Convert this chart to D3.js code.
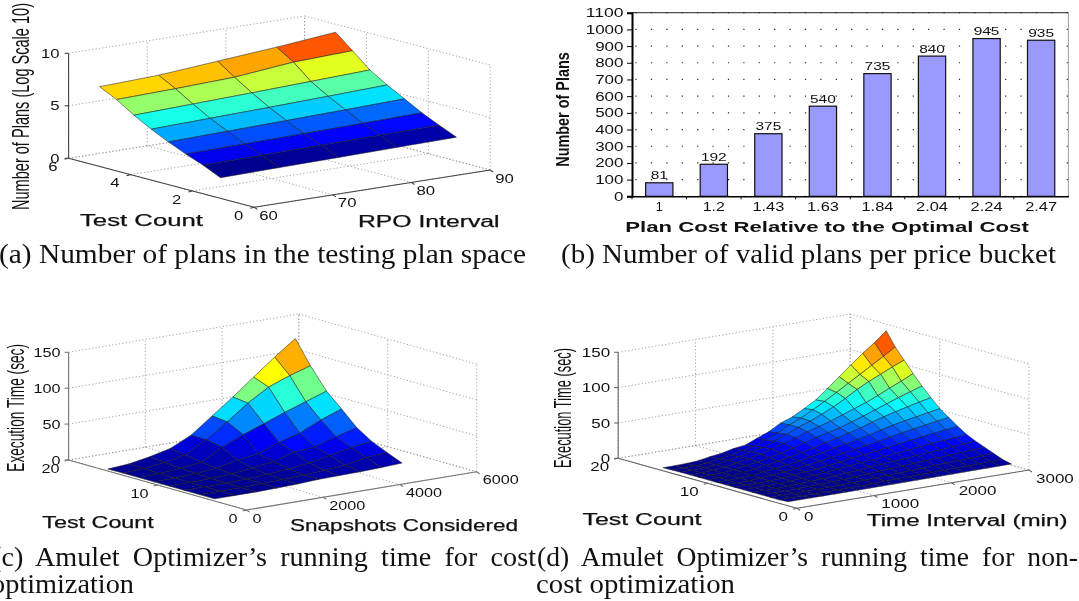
<!DOCTYPE html>
<html lang="en">
<head>
<meta charset="UTF-8">
<title>Amulet Optimizer plots</title>
<script src="https://d3js.org/d3.v7.min.js"></script>
<style>
    html, body { margin: 0; padding: 0; background: #fff; }
    svg { display: block; filter: blur(0.35px); }
    text { font-family: "Liberation Sans", sans-serif; fill: #111; }
    .caption { font-family: "Liberation Serif", serif; font-size: 27px; }
</style>
</head>
<body>
<svg id="chart" width="1079" height="601"></svg>
<script>
// (a) surface
const aTestCount = [1.09, 1.65, 2.21, 2.77, 3.33, 3.89, 4.45, 5];
const aRpoInterval = [60, 67.5, 75, 82.5, 90];
const aPlans = [
    [1.97, 2.05, 2.12, 2.2, 2.28],
    [2.73, 2.78, 2.85, 2.92, 2.98],
    [3.35, 3.43, 3.52, 3.62, 3.73],
    [4.07, 4.2, 4.33, 4.47, 4.62],
    [4.85, 5.0, 5.15, 5.32, 5.51],
    [5.75, 5.92, 6.1, 6.3, 6.5],
    [6.8, 6.95, 7.15, 7.7, 7.9],
    [7.6, 7.8, 8.25, 8.7, 9.23]
];

// (b) bars
const barCosts = ["1", "1.2", "1.43", "1.63", "1.84", "2.04", "2.24", "2.47"];
const barPlans = [81, 192, 375, 540, 735, 840, 945, 935];
const barTicks = [0, 100, 200, 300, 400, 500, 600, 700, 800, 900, 1000, 1100];

// (c) surface
const cTestCount = [3.6, 5.3, 7, 8.7, 10.4, 12.1, 13.9, 15.6];
const cSnapshots = [0, 540, 1090, 1630, 2170, 2720, 3260, 3800, 4350, 4890];
const cTime = [
    [3, 3, 3, 3.5, 4.5, 6, 6.5, 7, 8, 9.4],
    [3, 3, 3.2, 3.8, 4.8, 6.2, 7.8, 10, 16, 18.3],
    [3, 3.2, 3.6, 4.4, 6, 8.5, 12, 17.6, 24, 27.6],
    [3, 3.3, 4, 5.5, 9, 13, 21, 24, 33, 41],
    [3, 3.5, 5, 7.5, 14, 18, 29, 37, 50.5, 61],
    [3, 4, 6.5, 10, 26, 38.5, 49, 60, 70, 80],
    [3, 4.5, 8, 14, 30, 50, 71.5, 89, 100, 109],
    [2.8, 4.9, 10, 17, 30.5, 52.5, 74, 97, 120, 141]
];

// (d) surface
const dTestCount = [1, 2, 3, 4, 5, 6, 7, 8, 9, 10, 11, 12, 13, 14, 15];
const dInterval = [0, 152, 304, 456, 608, 760, 912, 1064, 1216, 1368, 1520, 1672, 1824, 1976, 2128, 2280, 2432, 2584, 2736, 2888];
const dTime = [
    [5.8, 5.8, 5.8, 5.8, 5.8, 5.8, 5.9, 5.9, 6, 6, 6.1, 6.2, 6.3, 6.4, 6.5, 6.6, 6.7, 6.8, 6.9, 7],
    [5, 5, 5, 5, 5.1, 5.2, 5.4, 5.6, 6, 6.4, 6.9, 7.3, 7.7, 8, 8.3, 8.6, 8.9, 9.2, 9.6, 10],
    [5, 5, 5, 5.1, 5.3, 5.5, 6, 6.3, 7, 7.8, 8.7, 9.3, 10, 10.8, 11.5, 12.3, 13, 13.6, 14.3, 15],
    [5, 5, 5, 5.2, 5.6, 6, 6.8, 7.4, 8.5, 9.6, 10.8, 11.7, 12.7, 13.7, 15, 16, 17, 18, 19, 20],
    [5, 5, 5, 5.3, 6, 6.8, 7.8, 8.8, 10.2, 11.6, 13.2, 14.4, 15.7, 17, 18.6, 20, 21.4, 22.6, 23.8, 25],
    [5, 5, 5.1, 5.5, 6.5, 7.6, 9, 10.2, 12, 13.8, 15.8, 17.4, 19, 20.8, 22.8, 24.6, 26.2, 27.8, 29.4, 31],
    [5, 5, 5.2, 5.8, 7.2, 8.5, 10.2, 11.8, 14, 16.2, 18.8, 20.8, 23, 25.4, 28, 30.6, 32.8, 35, 37, 39],
    [5, 5, 5.3, 6.2, 8, 9.5, 11.6, 13.6, 16.4, 19, 22.2, 24.8, 27.6, 30.6, 34, 37.2, 40, 42.8, 45.4, 48],
    [5, 5, 5.4, 6.5, 8.8, 10.6, 13.2, 15.6, 19, 22.2, 26, 29, 32.6, 36.2, 40.5, 44.5, 48, 51, 54, 57],
    [5, 5.1, 5.6, 7, 9.6, 11.8, 14.8, 17.6, 21.6, 25.4, 30, 33.6, 38, 42.5, 48, 53, 57.5, 61.5, 65.5, 69],
    [5, 5.2, 5.8, 7.4, 10.4, 13, 16.4, 19.8, 24.4, 29, 34, 38, 42, 47.5, 53, 59, 65, 71, 76.5, 82],
    [5, 5.2, 6, 7.8, 11, 14, 18, 22, 27.4, 32.6, 38.5, 43, 48, 54, 60, 66, 73, 81, 88, 96],
    [5, 5.1, 5.8, 7.5, 10.5, 13.5, 17.5, 21, 27, 34, 41, 47, 54, 62, 71, 81, 89.5, 97, 104.5, 111.5],
    [4.8, 4.9, 5.3, 6.5, 9.5, 11.5, 16, 19, 25, 32, 41, 48, 57, 66, 76, 86, 96, 106, 116, 126.7],
    [4.4, 4.5, 5, 6, 9, 11, 15, 17, 24, 30.5, 40, 46, 55, 64.5, 78, 92, 106, 119.5, 132, 146]
];

const svg = d3.select("#chart");

// MATLAB jet
const jet = d3.scaleLinear()
    .domain([0, 0.125, 0.375, 0.625, 0.875, 1])
    .range(["#00008f", "#0000ff", "#00ffff", "#ffff00", "#ff0000", "#800000"])
    .clamp(true);

// text squeezed or stretched to the width it has in the picture
function label(parent, str, x, y, width, opts = {}) {
    const t = parent.append("text")
        .attr("x", x)
        .attr("y", y)
        .attr("dy", ".35em")
        .attr("text-anchor", opts.anchor || "start")
        .attr("font-size", opts.size || 13)
        .attr("font-weight", opts.weight || "normal")
        .attr("textLength", width)
        .attr("lengthAdjust", "spacingAndGlyphs")
        .text(str);
    if (opts.stroke) t.attr("stroke", "#111").attr("stroke-width", opts.stroke);
    if (opts.rotate) t.attr("transform", `rotate(-90,${x},${y})`);
    return t;
}

function drawSurface(cfg) {
    const g = svg.append("g");
    const tMax = cfg.tTicks[cfg.tTicks.length - 1];
    const tMin = cfg.tTicks[0];
    const sMin = cfg.sTicks[0];
    const sMax = cfg.sTicks[cfg.sTicks.length - 1];
    const zMax = cfg.zTicks[cfg.zTicks.length - 1];

    // oblique axes: each data axis moves the point along its own screen vector
    const tx = d3.scaleLinear().domain([tMin, tMax]).range([0, cfg.left[0] - cfg.front[0]]);
    const ty = d3.scaleLinear().domain([tMin, tMax]).range([0, cfg.left[1] - cfg.front[1]]);
    const sx = d3.scaleLinear().domain([sMin, sMax]).range([0, cfg.right[0] - cfg.front[0]]);
    const sy = d3.scaleLinear().domain([sMin, sMax]).range([0, cfg.right[1] - cfg.front[1]]);
    const zy = d3.scaleLinear().domain([0, zMax]).range([0, -cfg.zHeight]);

    const project = (t, s, z) => [
        cfg.front[0] + tx(t) + sx(s),
        cfg.front[1] + ty(t) + sy(s) + zy(z)
    ];

    const grid = g.append("g")
        .attr("fill", "none")
        .attr("stroke", "#9a9a9a")
        .attr("stroke-width", 0.9)
        .attr("stroke-dasharray", "1.2 2.2");
    const seg = (a, b) => grid.append("line")
        .attr("x1", a[0]).attr("y1", a[1])
        .attr("x2", b[0]).attr("y2", b[1]);

    cfg.tTicks.forEach(t => {
        seg(project(t, sMin, 0), project(t, sMax, 0));
        seg(project(t, sMax, 0), project(t, sMax, zMax));
    });
    cfg.sTicks.forEach(s => {
        seg(project(tMin, s, 0), project(tMax, s, 0));
        seg(project(tMax, s, 0), project(tMax, s, zMax));
    });
    cfg.zTicks.forEach(z => {
        seg(project(tMax, sMin, z), project(tMax, sMax, z));
        seg(project(tMax, sMax, z), project(tMin, sMax, z));
    });

    // solid axes and ticks
    const axes = g.append("g").attr("stroke", cfg.axisColor).attr("stroke-width", 1.1).attr("fill", "none");
    const solid = (a, b) => axes.append("line")
        .attr("x1", a[0]).attr("y1", a[1])
        .attr("x2", b[0]).attr("y2", b[1]);
    solid(project(tMax, sMin, 0), project(tMax, sMin, zMax));
    solid(project(tMax, sMin, 0), project(tMin, sMin, 0));
    solid(project(tMin, sMin, 0), project(tMin, sMax, 0));

    cfg.zTicks.forEach(z => {
        const p = project(tMax, sMin, z);
        solid(p, [p[0] - 4, p[1]]);
        label(g, String(z), p[0] - cfg.zGap, p[1], String(z).length * cfg.charW, { anchor: "end" });
    });
    cfg.tTicks.forEach(t => {
        const p = project(t, sMin, 0);
        solid(p, [p[0] - 4, p[1] + 1]);
        label(g, String(t), p[0] - cfg.tGap, p[1] + 8, String(t).length * cfg.charW, { anchor: "end" });
    });
    cfg.sTicks.forEach(s => {
        const p = project(tMin, s, 0);
        solid(p, [p[0] + 3, p[1] + 2]);
        label(g, String(s), p[0] + cfg.sGap, p[1] + 8, String(s).length * cfg.charW);
    });

    // cells, far corner first, coloured by their first vertex like flat shading
    const zAll = cfg.values.flat();
    const colorPos = d3.scaleLinear().domain(d3.extent(zAll)).range([0, 1]);
    const cells = [];
    for (let i = cfg.tests.length - 2; i >= 0; i--) {
        for (let j = cfg.steps.length - 2; j >= 0; j--) {
            cells.push({ i, j });
        }
    }
    const outline = d3.line().curve(d3.curveLinearClosed);
    g.append("g").selectAll("path")
        .data(cells)
        .join("path")
        .attr("d", d => outline([
            project(cfg.tests[d.i], cfg.steps[d.j], cfg.values[d.i][d.j]),
            project(cfg.tests[d.i], cfg.steps[d.j + 1], cfg.values[d.i][d.j + 1]),
            project(cfg.tests[d.i + 1], cfg.steps[d.j + 1], cfg.values[d.i + 1][d.j + 1]),
            project(cfg.tests[d.i + 1], cfg.steps[d.j], cfg.values[d.i + 1][d.j])
        ]))
        .attr("fill", d => jet(colorPos(cfg.values[d.i][d.j])))
        .attr("stroke", "#1c1c1c")
        .attr("stroke-opacity", 0.75)
        .attr("stroke-width", 0.7)
        .attr("stroke-linejoin", "round");

    // axis titles
    label(g, cfg.zTitle[0], cfg.zTitle[1], cfg.zTitle[2], cfg.zTitle[3], { rotate: true, size: 24 });
    label(g, cfg.tTitle[0], cfg.tTitle[1], cfg.tTitle[2], cfg.tTitle[3], { size: 16, stroke: 0.25 });
    label(g, cfg.sTitle[0], cfg.sTitle[1], cfg.sTitle[2], cfg.sTitle[3], { size: 16, stroke: 0.25 });
}

drawSurface({
    front: [254.2, 207.3], left: [68.6, 158.3], right: [490.2, 170], zHeight: 105,
    tTicks: [0, 2, 4, 6], sTicks: [60, 70, 80, 90], zTicks: [0, 5, 10],
    tests: aTestCount, steps: aRpoInterval, values: aPlans,
    axisColor: "#444", charW: 9.3, zGap: 9, tGap: 11, sGap: 5,
    zTitle: ["Number of Plans (Log Scale 10)", 21, 210, 207],
    tTitle: ["Test Count", 80, 220, 123],
    sTitle: ["RPO Interval", 358, 221.7, 141.5]
});

drawSurface({
    front: [246.5, 510], left: [68.6, 460], right: [476.7, 471.7], zHeight: 107.7,
    tTicks: [0, 10, 20], sTicks: [0, 2000, 4000, 6000], zTicks: [0, 50, 100, 150],
    tests: cTestCount, steps: cSnapshots, values: cTime,
    axisColor: "#777", charW: 9, zGap: 8, tGap: 9, sGap: 6,
    zTitle: ["Execution Time (sec)", 16, 471.7, 127.7],
    tTitle: ["Test Count", 42.3, 522.3, 111.5],
    sTitle: ["Snapshots Considered", 290, 525, 228]
});

drawSurface({
    front: [797, 508.3], left: [618.2, 458.3], right: [1029, 470], zHeight: 106,
    tTicks: [0, 10, 20], sTicks: [0, 1000, 2000, 3000], zTicks: [0, 50, 100, 150],
    tests: dTestCount, steps: dInterval, values: dTime,
    axisColor: "#666", charW: 9.45, zGap: 8, tGap: 9, sGap: 7,
    zTitle: ["Execution Time (sec)", 563, 468, 120],
    tTitle: ["Test Count", 582.5, 519, 119],
    sTitle: ["Time Interval (min)", 866.8, 520.7, 200.7]
});

// bar chart
const barG = svg.append("g");
const x = d3.scaleBand().domain(barCosts).range([632, 1068.4]).paddingInner(0.5).paddingOuter(0.25);
const y = d3.scaleLinear().domain([0, 1100]).range([196.3, 12.7]);

barG.append("g").selectAll("line")
    .data(barTicks)
    .join("line")
    .attr("x1", 635.5).attr("x2", 1068)
    .attr("y1", d => y(d)).attr("y2", d => y(d))
    .attr("stroke", "#222")
    .attr("stroke-width", 1.2)
    .attr("stroke-dasharray", "1.2 14.2");

barG.append("line").attr("x1", 632).attr("x2", 1068.4).attr("y1", y(1100)).attr("y2", y(1100))
    .attr("stroke", "#222").attr("stroke-width", 1);
barG.append("line").attr("x1", 1068.4).attr("x2", 1068.4).attr("y1", y(1100)).attr("y2", y(0))
    .attr("stroke", "#888").attr("stroke-width", 0.8);

barG.append("g").selectAll("rect")
    .data(barPlans)
    .join("rect")
    .attr("x", (d, i) => x(barCosts[i]))
    .attr("y", d => y(d))
    .attr("width", x.bandwidth())
    .attr("height", d => y(0) - y(d))
    .attr("fill", "#9999ff")
    .attr("stroke", "#111")
    .attr("stroke-width", 1.2);

const yAxis = barG.append("g")
    .attr("transform", "translate(632,0)")
    .call(d3.axisLeft(y).tickValues(barTicks).tickSizeOuter(0).tickSize(5).tickFormat(""));
yAxis.select(".domain").attr("stroke-width", 2);
const xAxis = barG.append("g")
    .attr("transform", `translate(0,${y(0)})`)
    .call(d3.axisBottom(x).tickSizeOuter(0).tickSize(0).tickFormat(""));
xAxis.select(".domain").attr("stroke-width", 1.5);

// x ticks sit between the categories
barG.append("g").selectAll("line")
    .data(barCosts)
    .join("line")
    .attr("x1", d => x(d) - x.step() * 0.25)
    .attr("x2", d => x(d) - x.step() * 0.25)
    .attr("y1", y(0)).attr("y2", y(0) + 3)
    .attr("stroke", "#111");

const barCharW = { 1: 7, 3: 22, 4: 32 };
barTicks.forEach(d => label(barG, String(d), 623.5, y(d), String(d).length * 9.45, { anchor: "end" }));
barCosts.forEach(d => label(barG, d, x(d) + x.bandwidth() / 2, 206.7, barCharW[d.length], { anchor: "middle" }));
barPlans.forEach((d, i) => label(barG, String(d), x(barCosts[i]) + x.bandwidth() / 2, y(d) - 7, String(d).length * 8.6, { anchor: "middle", size: 10 }));

label(barG, "Plan Cost Relative to the Optimal Cost", 625.3, 226.7, 403.5, { weight: "bold", size: 14 });
label(barG, "Number of Plans", 562.3, 166.7, 114.4, { weight: "bold", size: 19, rotate: true });

// captions
function caption(str, x0, base, width, wordGap) {
    svg.append("text")
        .attr("class", "caption")
        .attr("x", x0)
        .attr("y", base)
        .attr("textLength", width)
        .attr("lengthAdjust", "spacingAndGlyphs")
        .style("word-spacing", wordGap || "0")
        .text(str);
}
caption("(a) Number of plans in the testing plan space", -1, 263, 527);
caption("(b) Number of valid plans per price bucket", 561, 263, 495);
caption("(c) Amulet Optimizer\u2019s running time for cost", -8, 565.5, 544, "6px");
caption("optimization", -9, 593, 143);
caption("(d) Amulet Optimizer\u2019s running time for non-", 537, 565.5, 541, "6px");
caption("cost optimization", 536, 593, 199);
</script>
</body>
</html>
